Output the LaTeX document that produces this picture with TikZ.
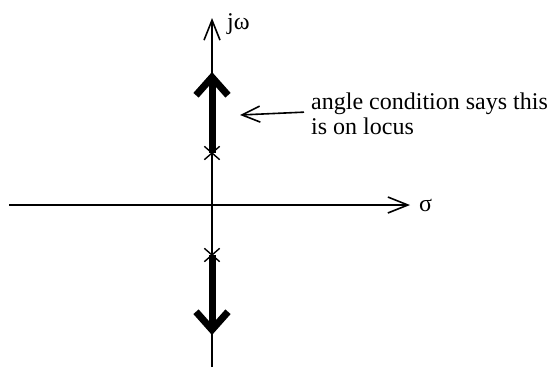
\documentclass[tikz,border=0pt]{standalone}
\usepackage{fontspec}
\setmainfont{Liberation Serif}
\usetikzlibrary{arrows.meta,positioning,shapes.misc}
\tikzset{
  axis line/.style={line width=1.6pt, -{Straight Barb[sharp,length=20pt,width=16pt]}},
  locus arrow/.style={line width=7pt, -{Straight Barb[sharp,length=18pt,width=32pt]}},
  pole mark/.style={cross out, draw, line width=1.4pt, minimum width=14pt,
    minimum height=12pt, inner sep=0pt},
  note text/.style={align=left, inner sep=0pt, font=\fontsize{24}{25}\selectfont},
  note arrow/.style={line width=1.6pt, -{Straight Barb[sharp,length=18pt,width=16pt]}}
}

\begin{document}
\begin{tikzpicture}[x=1pt, y=-1pt]
    \useasboundingbox (0,0) rectangle (557,367);
    % axes
    \coordinate (origin) at (212,205);
    \coordinate (sigma end) at (410,205);
    \coordinate (sigma start) at (9,205);
    \coordinate (omega end) at (212,18);
    \coordinate (omega start) at (212,367);
    \draw[axis line] (sigma start) -- (sigma end);
    \draw[axis line] (omega start) -- (omega end);
    \node[note text, anchor=west, right=9pt of sigma end] (sigma label) {σ};
    \node[note text, anchor=base west] (omega label) at (227,29) {jω};
    % poles and branches
    \node[pole mark] (upper pole) at (212,153) {};
    \node[pole mark] (lower pole) at (212,255) {};
    \coordinate (upper tip) at (212,72);
    \coordinate (lower tip) at (212,335);
    \draw[locus arrow] (upper pole.center) -- (upper tip);
    \draw[locus arrow] (lower pole.center) -- (lower tip);
    % annotation
    \node[note text, anchor=north west] (note) at (311,93) {angle condition says this\\is on locus};
    \coordinate (note target) at (240,115);
    \draw[note arrow] ([xshift=-7pt,yshift=2pt]note.west) -- (note target);
\end{tikzpicture}
\end{document}
